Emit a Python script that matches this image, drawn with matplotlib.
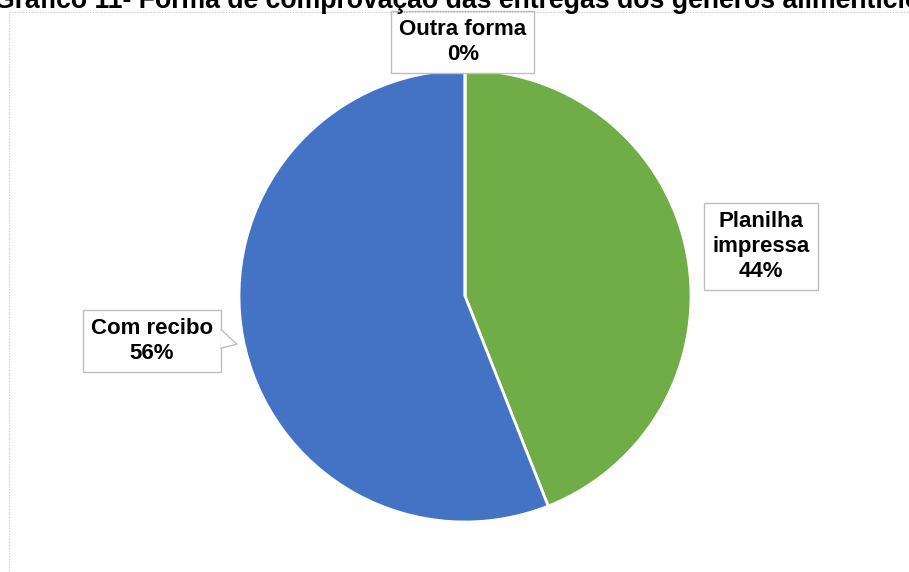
import matplotlib.pyplot as plt
from matplotlib.patches import Rectangle, Polygon

# dados do gráfico
categorias = ['Planilha impressa', 'Com recibo', 'Outra forma']
rotulos = ['Planilha\nimpressa', 'Com recibo', 'Outra forma']
valores = [44, 56, 0]
cores = ['#70AD47', '#4472C4', '#A5A5A5']
titulo = 'Gráfico 11- Forma de comprovação das entregas dos gêneros alimentícios'

# posição dos rótulos (em raios do gráfico, centro em 0,0)
pos_rotulos = [(1.31, 0.22), (-1.385, -0.20), (-0.01, 1.125)]

plt.rcParams['font.family'] = ['Liberation Sans', 'DejaVu Sans']

W, H = 909, 572
cx, cy, r = 465, 296, 226  # centro e raio em pixels

fig = plt.figure(figsize=(W / 100, H / 100), dpi=100)
ax = fig.add_axes([0, 0, 1, 1])

# borda pontilhada da área do gráfico
fig.patches.append(Rectangle((8.5 / W, -0.05), 1.1, (H - 11.5) / H + 0.05,
                             transform=fig.transFigure, fill=False,
                             edgecolor='#BFBFBF', linestyle=(0, (1, 1.5)),
                             linewidth=0.8))

ax.pie(valores, colors=cores, startangle=90, counterclock=False, radius=1,
       wedgeprops=dict(edgecolor='white', linewidth=2))
ax.set_aspect('auto')
ax.set_xlim(-cx / r, (W - cx) / r)
ax.set_ylim(-(H - cy) / r, cy / r)
ax.axis('off')

total = sum(valores)
textos = []
for rot, v, (x, y) in zip(rotulos, valores, pos_rotulos):
    pct = round(100 * v / total)
    t = ax.text(x, y, f'{rot}\n{pct}%', ha='center', va='center', fontsize=16,
                fontweight='bold', color='black', linespacing=1.25, zorder=5,
                bbox=dict(boxstyle='square,pad=0.36', facecolor='white',
                          edgecolor='#BFBFBF', linewidth=1))
    textos.append(t)

# ponteiro do rótulo "Com recibo", preso à borda direita da caixa
fig.canvas.draw()
bb = textos[1].get_bbox_patch().get_window_extent()
inv = ax.transData.inverted()
ymid = (bb.y0 + bb.y1) / 2
pts = inv.transform([(bb.x1 - 0.5, ymid + 12), (cx - r - 2, ymid - 3),
                     (bb.x1 - 0.5, ymid - 7)])
ax.add_patch(Polygon(pts, closed=False, facecolor='white',
                     edgecolor='#BFBFBF', linewidth=1, zorder=6))

# título cortado no topo, como na imagem original
fig.text(cx / W, 1 - 8.5 / H, titulo, ha='center', va='baseline',
         fontsize=19.2, fontweight='bold', color='black')

fig.savefig('out.png', dpi=100)
